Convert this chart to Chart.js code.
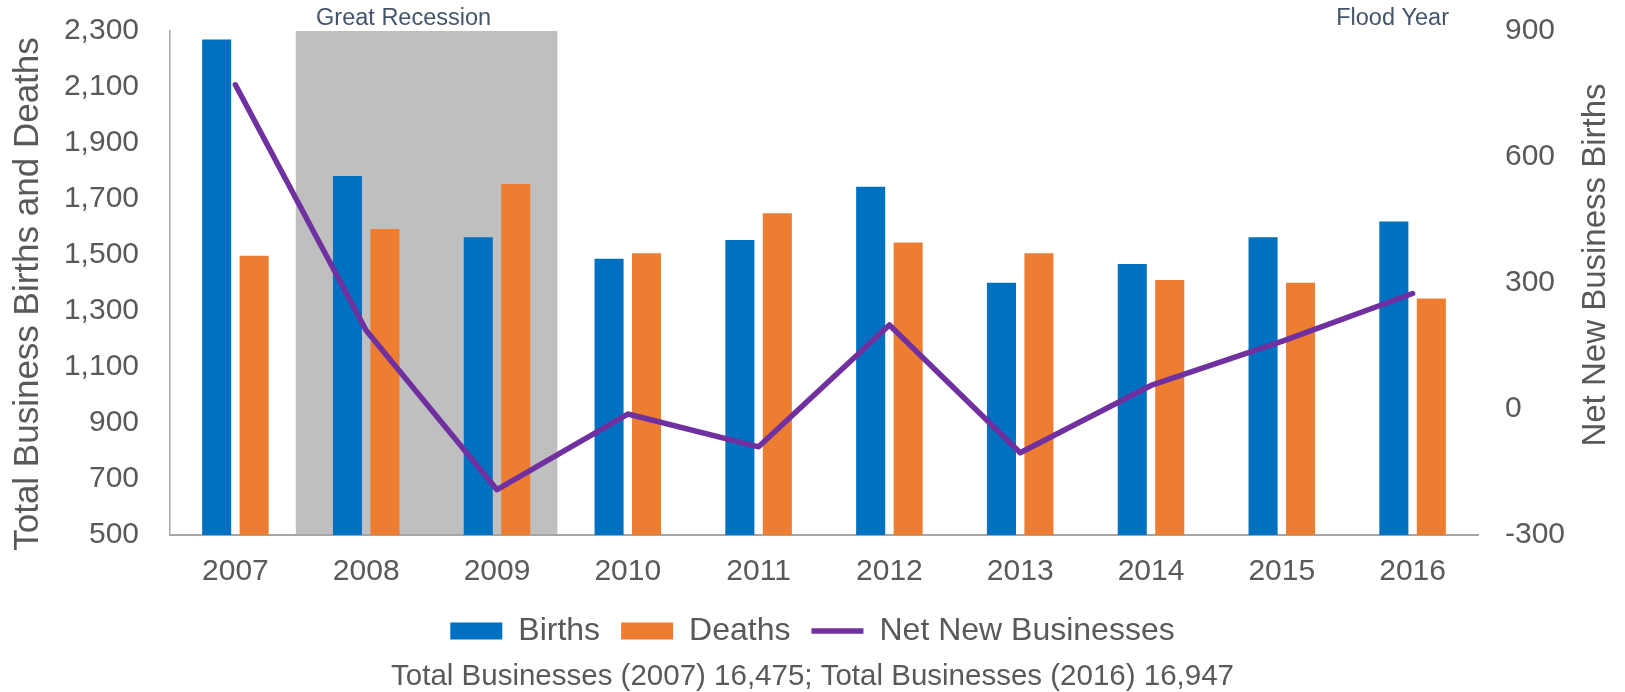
<!DOCTYPE html>
<html>
<head>
<meta charset="utf-8">
<script src="https://cdn.jsdelivr.net/npm/chart.js@4.4.1/dist/chart.umd.min.js"></script>
<style>
  body { margin: 0; background: #fff; }
  #wrap { width: 1625px; height: 692px; }
</style>
</head>
<body>
<div id="wrap"><canvas id="chart"></canvas></div>
<script>
const years = ['2007', '2008', '2009', '2010', '2011', '2012', '2013', '2014', '2015', '2016'];
const births = [2270, 1782, 1563, 1487, 1554, 1744, 1401, 1468, 1563, 1620];
const deaths = [1497, 1593, 1754, 1506, 1649, 1545, 1506, 1411, 1401, 1345];
const netNew = [772, 187, -192, -12, -90, 200, -104, 56, 161, 275];

const leftTicks = [500, 700, 900, 1100, 1300, 1500, 1700, 1900, 2100, 2300];
const rightTicks = [-300, 0, 300, 600, 900];

const recessionYears = ['2008', '2009'];
const floodYear = '2016';
const leftTitle = 'Total Business Births and Deaths';
const rightTitle = 'Net New Business Births';
const footnote = 'Total Businesses (2007) 16,475; Total Businesses (2016) 16,947';

const textGray = '#595959';
const noteColor = '#44546A';
const fontFamily = "'Liberation Sans', Arial, sans-serif";

Chart.defaults.font.family = fontFamily;
Chart.defaults.color = textGray;

// grey box behind the recession years, the small notes and both axis titles
const extras = {
  id: 'extras',
  beforeDatasetsDraw(chart) {
    const { ctx, chartArea, scales: { x } } = chart;
    const half = (x.getPixelForValue(1) - x.getPixelForValue(0)) / 2;
    const left = x.getPixelForValue(years.indexOf(recessionYears[0])) - half - 5;
    const right = x.getPixelForValue(years.indexOf(recessionYears[1])) + half - 5;
    ctx.save();
    ctx.fillStyle = '#BFBFBF';
    ctx.fillRect(left, chartArea.top, right - left, chartArea.bottom - chartArea.top - 1);
    ctx.restore();
  },
  afterDraw(chart) {
    const { ctx, chartArea, scales: { x } } = chart;
    const recMid = (x.getPixelForValue(years.indexOf(recessionYears[0])) +
                    x.getPixelForValue(years.indexOf(recessionYears[1]))) / 2;
    const midY = (chartArea.top + chartArea.bottom) / 2;
    ctx.save();
    ctx.fillStyle = noteColor;
    ctx.font = `23.5px ${fontFamily}`;
    ctx.textAlign = 'center';
    ctx.textBaseline = 'alphabetic';
    ctx.fillText('Great Recession', recMid - 28, chartArea.top - 6);
    ctx.fillText('Flood Year', x.getPixelForValue(years.indexOf(floodYear)) - 20, chartArea.top - 6);

    // both axis titles read bottom to top
    ctx.fillStyle = textGray;
    ctx.textBaseline = 'middle';

    ctx.save();
    ctx.font = `35px ${fontFamily}`;
    ctx.translate(28, midY + 11);
    ctx.rotate(-Math.PI / 2);
    ctx.fillText(leftTitle, 0, 0);
    ctx.restore();

    ctx.font = `33px ${fontFamily}`;
    ctx.translate(chart.width - 29, midY - 18);
    ctx.rotate(-Math.PI / 2);
    ctx.fillText(rightTitle, 0, 0);
    ctx.restore();
  }
};

new Chart(document.getElementById('chart'), {
  type: 'bar',
  data: {
    labels: years,
    datasets: [
      {
        label: 'Births',
        data: births,
        backgroundColor: '#0070C0',
        yAxisID: 'y',
        order: 1
      },
      {
        label: 'Deaths',
        data: deaths,
        backgroundColor: '#ED7D31',
        yAxisID: 'y',
        order: 2
      },
      {
        type: 'line',
        label: 'Net New Businesses',
        data: netNew,
        borderColor: '#7030A0',
        backgroundColor: '#7030A0',
        borderWidth: 5.5,
        borderCapStyle: 'round',
        borderJoinStyle: 'round',
        pointRadius: 0,
        tension: 0,
        yAxisID: 'y1',
        order: 0
      }
    ]
  },
  options: {
    responsive: true,
    maintainAspectRatio: false,
    animation: false,
    layout: { padding: { top: 31, left: 0, right: 0, bottom: 0 } },
    datasets: {
      bar: { categoryPercentage: 0.573, barPercentage: 0.775 }
    },
    plugins: {
      tooltip: { enabled: false },
      legend: {
        position: 'bottom',
        labels: {
          color: textGray,
          font: { size: 32 },
          usePointStyle: true,
          pointStyleWidth: 52,
          boxHeight: 17,
          padding: 21,
          sort: (a, b) => a.datasetIndex - b.datasetIndex,
          generateLabels(chart) {
            const items = Chart.defaults.plugins.legend.labels.generateLabels(chart);
            items.forEach(it => {
              it.pointStyle = chart.data.datasets[it.datasetIndex].type === 'line' ? 'line' : 'rect';
            });
            return items;
          }
        }
      },
      title: {
        display: true,
        position: 'bottom',
        text: footnote,
        color: textGray,
        font: { size: 29.5, weight: 'normal', lineHeight: 1 },
        padding: { top: 5.5, bottom: 0 }
      }
    },
    scales: {
      x: {
        grid: { display: false, drawTicks: false },
        border: { display: true, color: '#A6A6A6', width: 2 },
        ticks: { color: textGray, font: { size: 30 }, padding: 19 },
        afterFit: s => { s.height = 59; }
      },
      y: {
        position: 'left',
        min: leftTicks[0],
        max: leftTicks[leftTicks.length - 1],
        afterBuildTicks: s => { s.ticks = leftTicks.map(v => ({ value: v })); },
        // tick marks hidden, tickLength only spaces the labels from the axis
        grid: { display: false, drawTicks: true, tickLength: 31 },
        border: { display: true, color: '#A6A6A6', width: 1.5 },
        ticks: {
          color: textGray,
          font: { size: 30 },
          padding: 0,
          callback: v => v.toLocaleString('en-US')
        },
        afterFit: s => { s.width = 170; }
      },
      y1: {
        position: 'right',
        min: rightTicks[0],
        max: rightTicks[rightTicks.length - 1],
        afterBuildTicks: s => { s.ticks = rightTicks.map(v => ({ value: v })); },
        grid: { display: false, drawTicks: true, tickLength: 27 },
        border: { display: false },
        ticks: {
          color: textGray,
          font: { size: 30 },
          padding: 0,
          callback: v => v.toLocaleString('en-US')
        },
        afterFit: s => { s.width = 147; }
      }
    }
  },
  plugins: [extras]
});
</script>
</body>
</html>
